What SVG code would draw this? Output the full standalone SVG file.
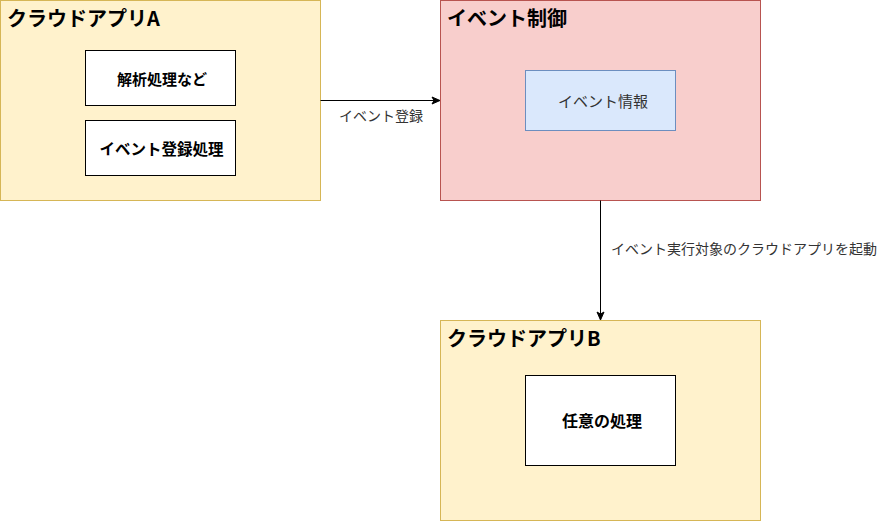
<svg xmlns="http://www.w3.org/2000/svg" width="878" height="521" viewBox="0 0 878 521">
<style>
text{font-family:"Noto Sans CJK JP","Noto Sans",sans-serif;}
.yellow{fill:#fff2cc;stroke:#d6b656;stroke-width:1}
.red{fill:#f8cecc;stroke:#b85450;stroke-width:1}
.blue{fill:#dae8fc;stroke:#6c8ebf;stroke-width:1}
.white{fill:#ffffff;stroke:#000000;stroke-width:1}
.title{font-size:20px;font-weight:bold;fill:#000}
.inner{font-size:15px;font-weight:bold;fill:#000;text-anchor:middle;dominant-baseline:central}
.label{font-size:14px;fill:#333;dominant-baseline:central}
.edge{stroke:#000;stroke-width:1;fill:none}
</style>
<defs>
<marker id="arrow" markerWidth="10" markerHeight="10" refX="8" refY="5" orient="auto" markerUnits="userSpaceOnUse">
<path d="M1,1.5 L9,5 L1,8.5 L3,5 Z" fill="#000" stroke="#000" stroke-width="1"/>
</marker>
</defs>
<g id="appA">
<rect class="yellow" x="0.5" y="0.5" width="320" height="200"/>
<text class="title" x="7" y="26">クラウドアプリA</text>
</g>
<g id="analysis">
<rect class="white" x="85.5" y="50.5" width="150" height="55"/>
<text class="inner" x="162" y="78">解析処理など</text>
</g>
<g id="eventReg">
<rect class="white" x="85.5" y="120.5" width="150" height="55"/>
<text class="inner" x="161.5" y="148" style="font-size:15.5px">イベント登録処理</text>
</g>
<g id="eventControl">
<rect class="red" x="440.5" y="0.5" width="320" height="200"/>
<text class="title" x="447" y="26">イベント制御</text>
</g>
<g id="eventInfo">
<rect class="blue" x="525.5" y="70.5" width="150" height="60"/>
<text class="label" x="603" y="100" text-anchor="middle" style="font-size:15px">イベント情報</text>
</g>
<g id="appB">
<rect class="yellow" x="440.5" y="320.5" width="320" height="200"/>
<text class="title" x="447" y="346">クラウドアプリB</text>
</g>
<g id="anyProcess">
<rect class="white" x="525.5" y="375.5" width="150" height="90"/>
<text class="inner" x="602" y="420" style="font-size:16px">任意の処理</text>
</g>
<g id="connectors">
<path class="edge" d="M320.5,100.5 L439,100.5" marker-end="url(#arrow)"/>
<text class="label" x="381" y="115" text-anchor="middle">イベント登録</text>
<path class="edge" d="M600.5,200.5 L600.5,319" marker-end="url(#arrow)"/>
<text class="label" x="611" y="248">イベント実行対象のクラウドアプリを起動</text>
</g>
</svg>
